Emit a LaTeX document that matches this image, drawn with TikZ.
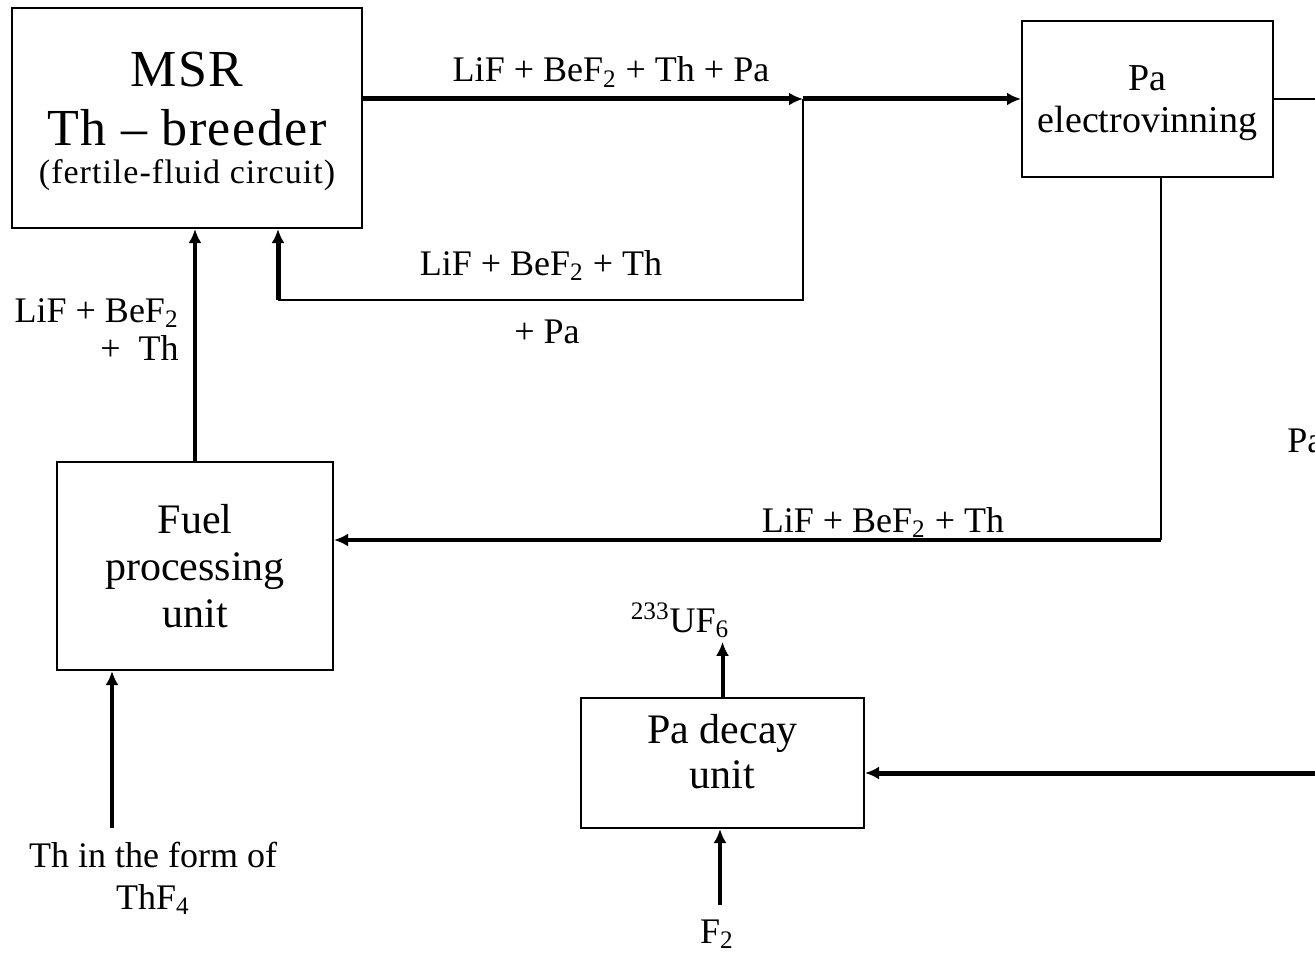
\documentclass[tikz,border=0pt]{standalone}
\usepackage{fontspec}
\setmainfont{Liberation Serif}
\usetikzlibrary{arrows.meta,positioning}

\begin{document}
\begin{tikzpicture}[x=0.5pt,y=-0.5pt,
  unit/.style={rectangle, draw, line width=1pt, inner sep=0pt, align=center},
  stream/.style={font=\fontsize{18}{21}\selectfont, inner sep=2pt},
  heavy/.style={line width=2.5pt},
  medium/.style={line width=2pt},
  light/.style={line width=1pt},
  >={Latex[length=7pt,width=6.5pt]}
]
  \useasboundingbox (0,0) rectangle (1315,952);

  % process units
  \node[unit, minimum width=175pt, minimum height=110pt, text depth=0pt,
    font=\fontsize{26}{17.5}\selectfont\addfontfeature{LetterSpace=3}] (msr) at (187,118)
    {MSR\\[10pt]Th -- breeder\\[1.5pt]{\fontsize{17}{17.5}\selectfont (fertile-fluid circuit)}};
  \node[unit, minimum width=125.5pt, minimum height=78pt, text depth=0pt, font=\fontsize{19}{21}\selectfont] (pae) at (1147.5,99)
    {Pa\\electrovinning};
  \node[unit, minimum width=138pt, minimum height=104pt, font=\fontsize{21}{23.5}\selectfont] (fuel) at (195,566)
    {Fuel\\processing\\unit};
  \node[unit, minimum width=141.5pt, minimum height=65pt, text depth=12pt, font=\fontsize{21}{22.5}\selectfont] (pdu) at (722.5,763)
    {Pa decay\\unit};

  % stream labels
  \node[stream, anchor=base] (top) at (611,82) {LiF + BeF\textsubscript{2} + Th + Pa};
  \node[stream, anchor=base] (back) at (541,275) {LiF + BeF\textsubscript{2} + Th};
  \node[stream, anchor=base] (backpa) at (547,343) {+ Pa};
  \node[stream, anchor=base east, align=right, font=\fontsize{18}{19}\selectfont] (feed) at (183,360) {LiF + BeF\textsubscript{2}\\+\ \ Th};
  \node[stream, anchor=base] (lower) at (883,532) {LiF + BeF\textsubscript{2} + Th};
  \node[stream, anchor=base west] (pa) at (1283,452) {Pa};
  \node[stream, anchor=base, align=center] (thf) at (153,909) {Th in the form of\\ThF\textsubscript{4}};
  \node[stream, anchor=base] (uf) at (680,632) {\textsuperscript{233}UF\textsubscript{6}};
  \node[stream, anchor=base] (ftwo) at (717,943) {F\textsubscript{2}};

  \coordinate (split) at (803,99);
  \coordinate (ret) at (278,300);
  \coordinate (drop) at (1161,540);
  \coordinate (outR) at (1315,98);
  \coordinate (inR) at (1315,773);
  \coordinate (thsrc) at (112,828);
  \coordinate (fsrc) at (720,905);

  % flows
  \draw[heavy,->] (msr.east |- pae) -- (split);
  \draw[heavy,->] (split) -- (pae.west);
  \draw[light] (split) |- (ret);
  \draw[heavy,->] (ret) -- (ret |- msr.south);
  \draw[medium,->] (fuel.north) -- (fuel.north |- msr.south);
  \draw[light] (pae.south -| drop) -- (drop);
  \draw[medium,->] (drop) -- (drop -| fuel.east);
  \draw[light] (pae.east) -- (pae.east -| outR);
  \draw[heavy,->] (inR) -- (inR -| pdu.east);
  \draw[medium,->] (pdu.north) -- (pdu.north |- uf.south);
  \draw[medium,->] (fsrc) -- (fsrc |- pdu.south);
  \draw[medium,->] (thsrc) -- (thsrc |- fuel.south);
\end{tikzpicture}
\end{document}
